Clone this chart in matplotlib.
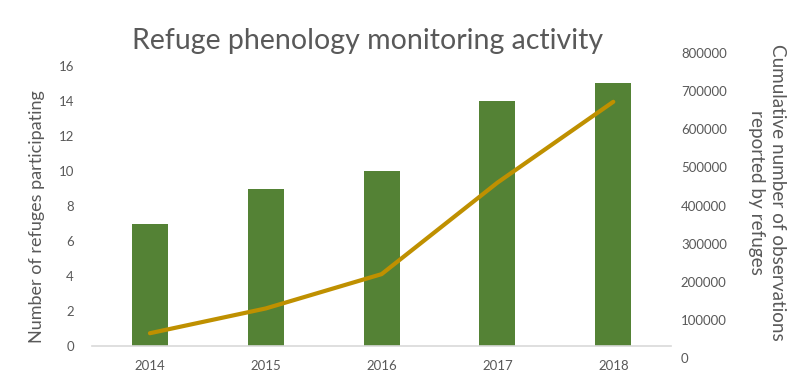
import numpy as np
import matplotlib.pyplot as plt

plt.rcParams['font.family'] = ['Lato', 'DejaVu Sans']

years = ['2014', '2015', '2016', '2017', '2018']
refuges = [7, 9, 10, 14, 15]
observations = [65000, 130000, 220000, 460000, 672000]

bar_color = '#548235'
line_color = '#BF9000'
text_color = '#595959'

fig = plt.figure(figsize=(8, 3.88), dpi=100)
ax = fig.add_axes([0.115, 0.108, 0.724, 0.722])
x = np.arange(len(years))
ax.bar(x, refuges, width=0.31, color=bar_color, zorder=2)
ax.set_xlim(-0.5, 4.5)
ax.set_ylim(0, 16)
ax.set_yticks(range(0, 17, 2))
ax.set_xticks(x)
ax.set_xticklabels(years)
for s in ['top', 'left', 'right']:
    ax.spines[s].set_visible(False)
ax.spines['bottom'].set_color('#D9D9D9')
ax.spines['bottom'].set_linewidth(1.2)
ax.tick_params(axis='both', length=0, colors=text_color, labelsize=9.5)
ax.tick_params(axis='y', pad=13)
ax.tick_params(axis='x', pad=10)

# right axis is offset from the left one in the original, so use its own axes
ax2 = fig.add_axes([0.115, 0.0773, 0.724, 0.7861])
ax2.patch.set_visible(False)
ax2.plot(x, observations, color=line_color, linewidth=3, solid_capstyle='round', solid_joinstyle='round')
ax2.set_xlim(-0.5, 4.5)
ax2.set_ylim(0, 800000)
ax2.set_yticks(range(0, 800001, 100000))
ax2.set_xticks([])
for s in ax2.spines.values():
    s.set_visible(False)
ax2.yaxis.tick_right()
ax2.tick_params(axis='y', length=0, colors=text_color, labelsize=9.5, pad=7)

fig.text(37 / 800, 1 - 217 / 388, 'Number of refuges participating', rotation=90,
         ha='center', va='center', fontsize=13, color=text_color)
fig.text(767 / 800, 1 - 192 / 388, 'Cumulative number of observations\nreported by refuges',
         rotation=270, ha='center', va='center', fontsize=13.6, color=text_color,
         linespacing=1.3, multialignment='center')

fig.text(0.459, 0.895, 'Refuge phenology monitoring activity', ha='center', va='center',
         fontsize=20.5, color=text_color)

fig.savefig('out.png', dpi=100)
